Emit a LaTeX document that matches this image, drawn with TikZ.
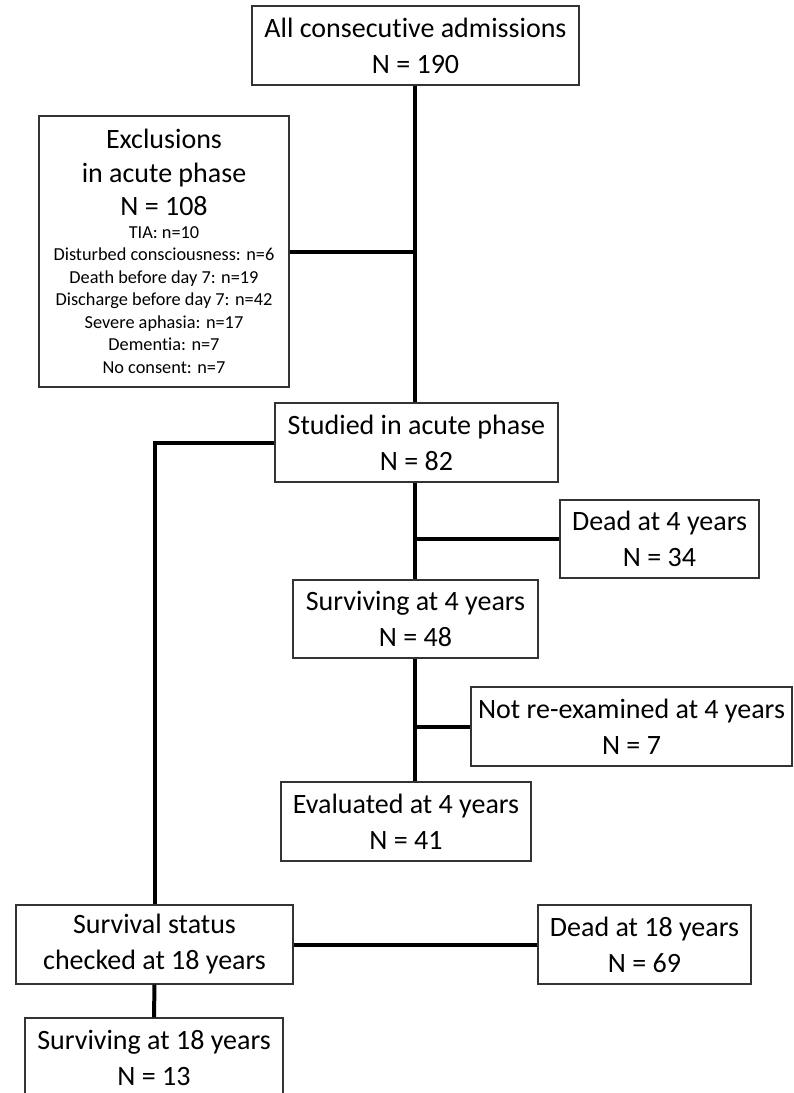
\documentclass[tikz,border=0pt]{standalone}
\usepackage{fontspec}
\setmainfont{Carlito}[Ligatures=NoCommon]
\begin{document}
\begin{tikzpicture}[x=1pt,y=-1pt,
  box/.style={draw=black!80, line width=1.3pt, inner sep=0pt, align=center,
    font=\fontsize{28}{36}\selectfont},
  conn/.style={line width=4pt}]
\useasboundingbox (0,0) rectangle (793,1093);
\node[box, minimum width=327, minimum height=79] (top) at (415.5,45.5) {All consecutive admissions\\N = 190};
\node[box, align=flush center, minimum width=250, minimum height=271, text width=250] (excl) at (164,251.5)
  {\fontsize{28}{33.5}\selectfont Exclusions\par in acute phase\par N = 108\par
   \fontsize{18.3}{22.5}\selectfont TIA: n=10\par Disturbed consciousness: n=6\par Death before day 7: n=19\par
   Discharge before day 7: n=42\par Severe aphasia: n=17\par Dementia: n=7\par No consent: n=7\par};
\node[box, minimum width=283, minimum height=79] (studied) at (416.5,442.5) {Studied in acute phase\\N = 82};
\node[box, minimum width=199, minimum height=78] (dead4) at (659.5,539) {Dead at 4 years\\N = 34};
\node[box, minimum width=245, minimum height=78] (surv4) at (415.5,619) {Surviving at 4 years\\N = 48};
\node[box, minimum width=321, minimum height=79] (notre) at (631.5,726.5) {Not re-examined at 4 years\\N = 7};
\node[box, minimum width=250, minimum height=79] (eval) at (406,821.5) {Evaluated at 4 years\\N = 41};
\node[box, minimum width=277, minimum height=79] (survival) at (154.5,944.5) {Survival status\\checked at 18 years};
\node[box, minimum width=213, minimum height=79] (dead18) at (644.5,944.5) {Dead at 18 years\\N = 69};
\node[box, minimum width=258, minimum height=79] (surv18) at (154,1057.5) {Surviving at 18 years\\N = 13};
\coordinate (tx) at (415,0);
\draw[conn] (top.south -| tx) -- (studied.north -| tx);
\draw[conn] (excl.east) -- (excl.east -| tx);
\draw[conn] (studied.west) -| (survival.north);
\draw[conn] (studied.south -| tx) -- (surv4.north -| tx);
\draw[conn] (dead4.west) -- (dead4.west -| tx);
\draw[conn] (surv4.south -| tx) -- (eval.north -| tx);
\draw[conn] (notre.west) -- (notre.west -| tx);
\draw[conn] (survival.east) -- (dead18.west);
\draw[conn] (survival.south) -- (surv18.north);
\end{tikzpicture}
\end{document}
